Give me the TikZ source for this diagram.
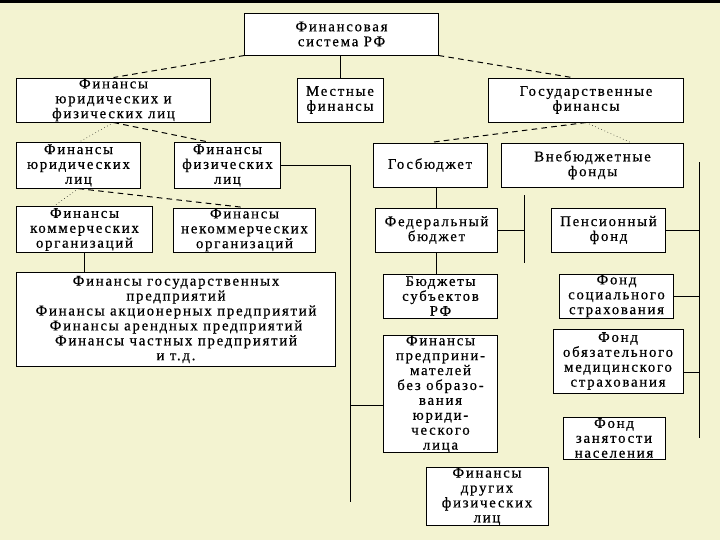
\documentclass[tikz,border=0pt]{standalone}
\usepackage{fontspec}
\setmainfont{Liberation Serif}[LetterSpace=12,FakeBold=0.6]
\usetikzlibrary{calc}
\definecolor{paper}{HTML}{F3F3D1}
\definecolor{ink}{HTML}{000000}
\tikzset{
  block/.style={draw=ink, fill=white, line width=0.7pt, align=center, inner sep=0pt,
                font=\fontsize{10.5}{10.6}\selectfont},
  link/.style={draw=ink, line width=0.7pt},
  dashlink/.style={draw=ink, line width=0.7pt, dash pattern=on 4pt off 3pt},
  dotlink/.style={draw=ink, line width=0.4pt, dotted}
}
\begin{document}
\begin{tikzpicture}[x=0.025cm,y=-0.025cm]
        \fill[paper] (0,0) rectangle (720,540);
        \fill[ink] (0,0) rectangle (720,2.5);
        % upper levels
        \node[block,minimum width=4.83cm,minimum height=1.05cm] (sys) at (341.5,34) {Финансовая\\система РФ};
        \node[block,minimum width=4.83cm,minimum height=1.1cm] (jurfiz) at (113.5,100) {Финансы\\юридических и\\физических лиц};
        \node[block,minimum width=2.15cm,minimum height=1.1cm] (local) at (340,100) {Местные\\финансы};
        \node[block,minimum width=4.85cm,minimum height=1.1cm] (gosfin) at (586,100) {Государственные\\финансы};
        % left branch
        \node[block,minimum width=3.08cm,minimum height=1.13cm] (jur) at (78.5,165.5) {Финансы\\юридических\\лиц};
        \node[block,minimum width=2.63cm,minimum height=1.13cm] (fiz) at (227.5,165.5) {Финансы\\физических\\лиц};
        \node[block,minimum width=3.38cm,minimum height=1.13cm] (comm) at (84.5,229.5) {Финансы\\коммерческих\\организаций};
        \node[block,minimum width=3.53cm,minimum height=1.1cm] (noncomm) at (244.5,230) {Финансы\\некоммерческих\\организаций};
        \node[block,minimum width=7.95cm,minimum height=2.33cm] (firms) at (176,319.5) {Финансы государственных\\предприятий\\Финансы акционерных предприятий\\Финансы арендных предприятий\\Финансы частных предприятий\\и т.д.};
        % state branch
        \node[block,minimum width=2.85cm,minimum height=1.1cm] (gosbud) at (430,165) {Госбюджет};
        \node[block,minimum width=4.53cm,minimum height=1.1cm] (vneb) at (592.5,165) {Внебюджетные\\фонды};
        \node[block,minimum width=3.03cm,minimum height=1.1cm] (fed) at (436.5,230) {Федеральный\\бюджет};
        \node[block,minimum width=2.83cm,minimum height=1.1cm] (subj) at (440.5,296) {Бюджеты\\субъектов\\РФ};
        \node[block,minimum width=2.83cm,minimum height=2.7cm] (ipfin) at (440.5,394) {Финансы\\предприни-\\мателей\\без образо-\\вания\\юриди-\\ческого\\лица};
        \node[block,minimum width=3.05cm,minimum height=1.38cm] (other) at (487,496.5) {Финансы\\других\\физических\\лиц};
        % funds
        \node[block,minimum width=2.83cm,minimum height=1.1cm] (pens) at (608.5,230) {Пенсионный\\фонд};
        \node[block,minimum width=2.83cm,minimum height=1.1cm] (soc) at (616.5,296) {Фонд\\социального\\страхования};
        \node[block,minimum width=3.25cm,minimum height=1.6cm] (oms) at (618,361) {Фонд\\обязательного\\медицинского\\страхования};
        \node[block,minimum width=2.55cm,minimum height=1.05cm] (zan) at (614,438) {Фонд\\занятости\\населения};
        \coordinate (trunk) at (350,502);
        \coordinate (ipjoin) at (350,405);
        \coordinate (midtop) at (524,195);
        \coordinate (midbot) at (524,263);
        \coordinate (rtop) at (699,162);
        \coordinate (rbot) at (699,438);
        \coordinate (omsjoin) at (699,372);
        \draw[dashlink] (sys.south west) -- (jurfiz.north);
        \draw[link] (local.north) -- (local.north |- sys.south);
        \draw[dashlink] (sys.south east) -- ($(gosfin.north)+(-14,0)$);
        \draw[dotlink] (jurfiz.south) -- (jur.north);
        \draw[dashlink] (jurfiz.south) -- ($(fiz.north)+(-17,0)$);
        \draw[dotlink] (jur.south) -- ($(comm.north)+(-31,0)$);
        \draw[dashlink] (jur.south) -- (noncomm.north);
        \draw[link] (comm.south) -- (comm.south |- firms.north);
        \draw[link] (fiz.east) -| (trunk);
        \draw[link] (ipfin.west |- ipjoin) -- (ipjoin);
        \draw[dashlink] (gosfin.south) -- (gosbud.north);
        \draw[dotlink] (gosfin.south) -- ($(vneb.north)+(38,0)$);
        \draw[link] (fed.north) -- (fed.north |- gosbud.south);
        \draw[link] (fed.south) -- (fed.south |- subj.north);
        \draw[link] (midtop) -- (midbot);
        \draw[link] (fed.east) -- (fed.east -| midtop);
        \draw[link] (rtop) -- (rbot);
        \draw[link] (pens.east) -- (pens.east -| rtop);
        \draw[link] (soc.east) -- (soc.east -| rtop);
        \draw[link] (oms.east |- omsjoin) -- (omsjoin);
\end{tikzpicture}
\end{document}
